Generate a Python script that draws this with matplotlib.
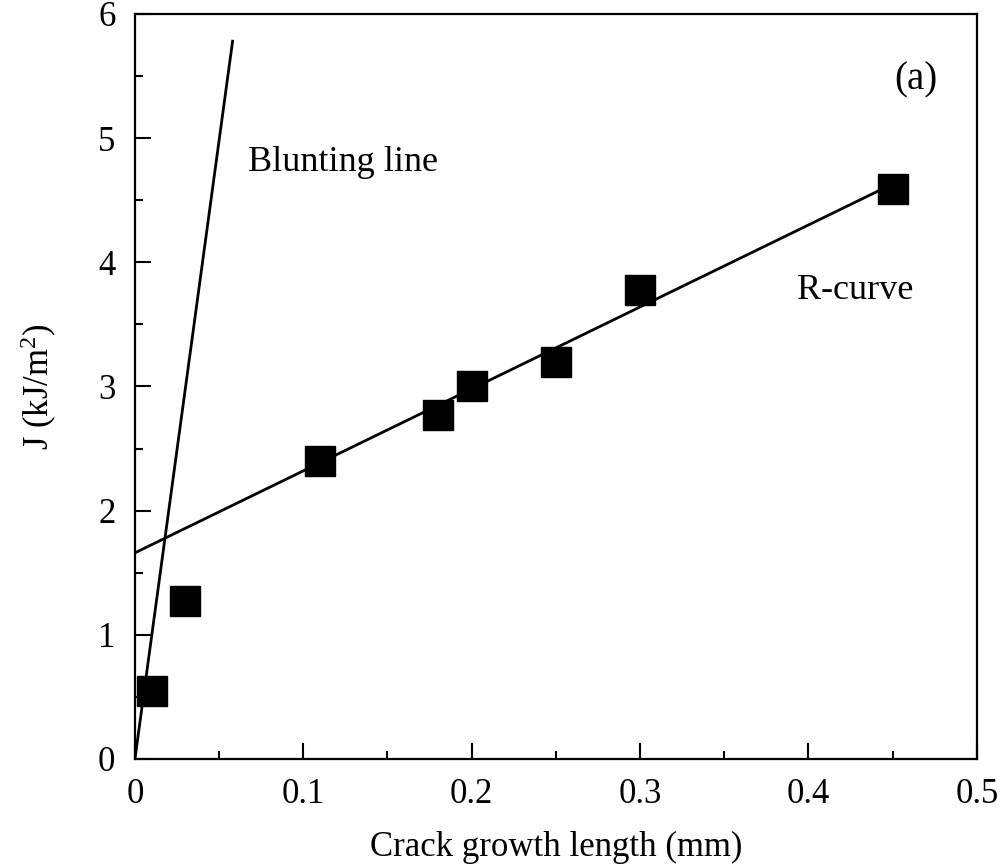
import matplotlib
matplotlib.use("Agg")
import matplotlib.pyplot as plt
from matplotlib.ticker import MultipleLocator

plt.rcParams['font.family'] = ['Liberation Serif', 'DejaVu Serif']
plt.rcParams['mathtext.fontset'] = 'custom'
plt.rcParams['mathtext.rm'] = 'Liberation Serif'
plt.rcParams['mathtext.it'] = 'Liberation Serif:italic'

# Data
crack_growth = [0.01, 0.03, 0.11, 0.18, 0.20, 0.25, 0.30, 0.45]
J_values = [0.55, 1.27, 2.40, 2.77, 3.00, 3.20, 3.78, 4.59]

rcurve_x = [0.0, 0.45]
rcurve_y = [1.66, 4.63]

blunt_x = [0.0, 0.058]
blunt_y = [0.0, 5.78]

fig = plt.figure(figsize=(10.07, 8.67), dpi=100)
ax = fig.add_axes([0.134, 0.1246, 0.836, 0.8594])

ax.plot(blunt_x, blunt_y, color='black', lw=2.0)
ax.plot(rcurve_x, rcurve_y, color='black', lw=2.0)
ax.plot(crack_growth, J_values, linestyle='none', marker='s', markersize=22,
        color='black', clip_on=False, zorder=3)

ax.set_xlim(0, 0.5)
ax.set_ylim(0, 6)
ax.xaxis.set_major_locator(MultipleLocator(0.1))
ax.xaxis.set_minor_locator(MultipleLocator(0.05))
ax.yaxis.set_major_locator(MultipleLocator(1))
ax.yaxis.set_minor_locator(MultipleLocator(0.5))
ax.set_xticks([0, 0.1, 0.2, 0.3, 0.4, 0.5])
ax.set_xticklabels(['0', '0.1', '0.2', '0.3', '0.4', '0.5'])

ax.tick_params(which='both', direction='in', top=False, right=False, width=1.5)
ax.tick_params(which='major', length=11.5, labelsize=25, pad=14)
ax.tick_params(which='minor', length=5.8)
for s in ax.spines.values():
    s.set_linewidth(1.6)

ax.set_xlabel('Crack growth length (mm)', fontsize=25, labelpad=14)
ax.set_ylabel(r'J (kJ/m$^2$)', fontsize=25, labelpad=28)

ax.text(0.067, 4.8, 'Blunting line', fontsize=26, va='center', ha='left')
ax.text(0.393, 3.77, 'R-curve', fontsize=26, va='center', ha='left')
ax.text(0.464, 5.47, '(a)', fontsize=28, va='center', ha='center')

fig.savefig('out.png', dpi=100)
